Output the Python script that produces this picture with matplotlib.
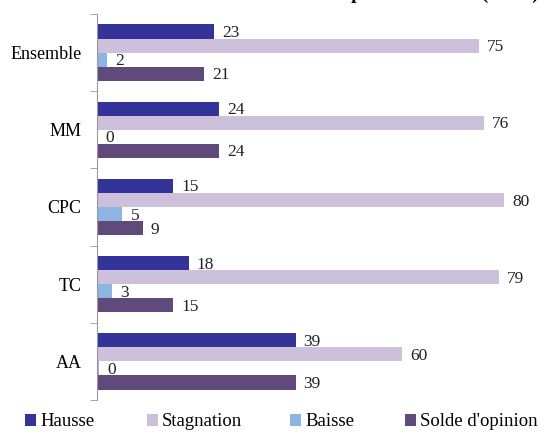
import matplotlib
matplotlib.use("Agg")
import matplotlib.pyplot as plt
import numpy as np

categories = ["Ensemble", "MM", "CPC", "TC", "AA"]
series_names = ["Hausse", "Stagnation", "Baisse", "Solde d'opinion"]
hausse = [23, 24, 15, 18, 39]
stagnation = [75, 76, 80, 79, 60]
baisse = [2, 0, 5, 3, 0.4]
solde = [21, 24, 9, 15, 39]
colors = ["#333399", "#CCC0DA", "#8DB4E2", "#604A7B"]
title = "Effectifs dans les trois prochains mois (en %)"

plt.rcParams['font.family'] = ['Liberation Serif', 'DejaVu Serif']

fig = plt.figure(figsize=(5.47, 4.32), dpi=100)
ax = fig.add_axes([97/547, 32/432, 450/547, 386/432])

n = len(categories)
ypos = np.arange(n)  # Ensemble at top (axis inverted)
h = 0.182
data = [hausse, stagnation, baisse, solde]
offsets = [-1.5*h, -0.5*h, 0.5*h, 1.5*h]
handles = []
for vals, col, off, name in zip(data, colors, offsets, series_names):
    bars = ax.barh(ypos + off, vals, height=h, color=col, label=name)
    handles.append(bars)
    for y, v in zip(ypos + off, vals):
        ax.text(v + 1.6, y + 0.02, f"{v:.0f}", va='center', ha='left', fontsize=12.5, color='#222222')

ax.set_xlim(0, 450/5.09)
ax.set_ylim(n - 0.5, -0.5)
ax.set_yticks(ypos)
ax.set_yticklabels(categories, fontsize=13)
ax.set_yticks(np.arange(-0.5, n, 1.0), minor=True)
ax.tick_params(axis='y', which='major', length=0, pad=11)
ax.tick_params(axis='y', which='minor', length=5, color='#999999', direction='out')
ax.set_xticks([])
for s in ['top', 'right', 'bottom']:
    ax.spines[s].set_visible(False)
ax.spines['left'].set_color('#999999')

# title, mostly above the visible area (as in the reference)
fig.text(539/547, 1 + 1.5/432, title, ha='right', va='baseline',
         fontsize=14, fontweight='bold', color='black')

leg_x = [25, 147, 290, 405]
for hnd, name, x in zip(handles, series_names, leg_x):
    fig.legend(handles=[hnd], labels=[name], loc='center left',
               bbox_to_anchor=(x/547, 1 - 422/432), frameon=False, fontsize=13.5,
               handlelength=0.6, handleheight=0.6, handletextpad=0.2,
               borderpad=0, borderaxespad=0)

fig.savefig("out.png", dpi=100)
